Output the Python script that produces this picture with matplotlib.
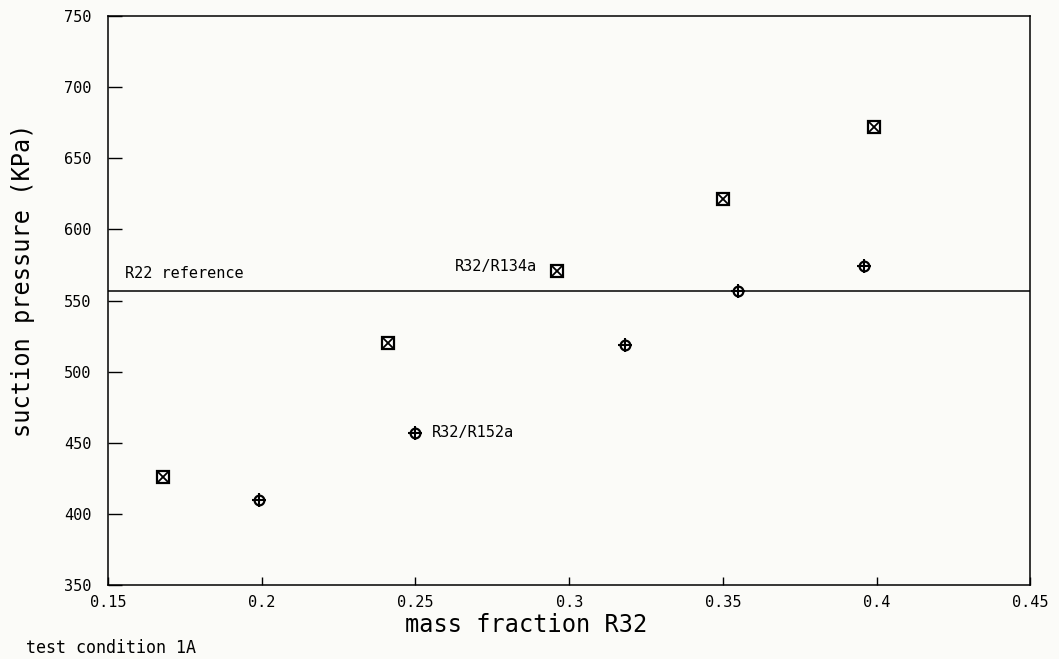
import matplotlib.pyplot as plt

# suction pressure vs. R32 mass fraction, test condition 1A
r134a_frac = [0.168, 0.241, 0.296, 0.350, 0.399]
r134a_press = [426, 520, 571, 621, 672]

r152a_frac = [0.199, 0.250, 0.318, 0.355, 0.396]
r152a_press = [410, 457, 519, 557, 574]

r22_ref = 557

xticks = [0.15, 0.2, 0.25, 0.3, 0.35, 0.4, 0.45]
xtick_labels = ["0.15", "0.2", "0.25", "0.3", "0.35", "0.4", "0.45"]
yticks = [350, 400, 450, 500, 550, 600, 650, 700, 750]

bg = "#fbfbf8"
plt.rcParams["font.family"] = "DejaVu Sans Mono"

fig = plt.figure(figsize=(10.59, 6.59), dpi=100, facecolor=bg)
ax = fig.add_axes([0.102, 0.112, 0.871, 0.864])
ax.set_facecolor(bg)

ax.set_xlim(0.15, 0.45)
ax.set_ylim(350, 750)

# reference line
ax.axhline(r22_ref, color="black", lw=1.1)

# squares with an X
ax.plot(r134a_frac, r134a_press, ls="none", marker="s", ms=8.5, mfc="white",
        mec="black", mew=1.6)
ax.plot(r134a_frac, r134a_press, ls="none", marker="x", ms=6.5, mec="black",
        mew=1.3)

# circles with a plus
ax.plot(r152a_frac, r152a_press, ls="none", marker="o", ms=7, mfc="white",
        mec="black", mew=1.6)
ax.plot(r152a_frac, r152a_press, ls="none", marker="+", ms=10.5, mec="black",
        mew=1.5)

ax.annotate("R22 reference", xy=(0.018, r22_ref),
            xycoords=("axes fraction", "data"), xytext=(0, 12),
            textcoords="offset points", va="center", ha="left", fontsize=11)
ax.annotate("R32/R134a", xy=(r134a_frac[2], r134a_press[2]),
            xytext=(-14, 3), textcoords="offset points", va="center",
            ha="right", fontsize=11)
ax.annotate("R32/R152a", xy=(r152a_frac[1], r152a_press[1]),
            xytext=(12, 0), textcoords="offset points", va="center",
            ha="left", fontsize=11)

ax.set_xticks(xticks)
ax.set_xticklabels(xtick_labels)
ax.set_yticks(yticks)
ax.tick_params(axis="x", direction="in", length=6, width=1, pad=7,
               labelsize=11)
ax.tick_params(axis="y", direction="in", length=10, width=1, pad=12,
               labelsize=11)
for s in ax.spines.values():
    s.set_linewidth(1.1)

fig.text(0.497, 0.052, "mass fraction R32", ha="center", va="center",
         fontsize=17)
fig.text(0.022, 0.575, "suction pressure (KPa)", ha="center", va="center",
         rotation=90, fontsize=17)
fig.text(0.025, 0.017, "test condition 1A", ha="left", va="center",
         fontsize=12)

fig.savefig("out.png", dpi=100, facecolor=bg)
